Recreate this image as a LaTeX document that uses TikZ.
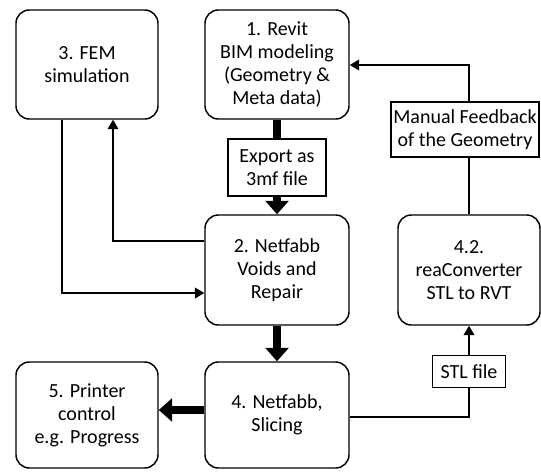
\documentclass[tikz,border=0pt]{standalone}
\usepackage{fontspec}
\setmainfont{Carlito}
\usetikzlibrary{arrows.meta}
\begin{document}
\begin{tikzpicture}[x=0.75pt, y=-0.75pt,
        step box/.style={draw, line width=1.1pt, rounded corners=10pt, align=center, inner sep=0pt},
        note box/.style={draw, line width=1.1pt, align=center, inner sep=0pt},
        link/.style={line width=1.1pt, -{Triangle[length=7pt, width=8pt]}},
        plain link/.style={line width=1.1pt},
        fat link/.style={line width=6pt},
        fat arrow/.style={line width=6pt, -{Triangle[length=10pt, width=17pt]}},
        font=\fontsize{15pt}{17.2pt}\selectfont]
        \useasboundingbox (0,0) rectangle (541,471);
        \node[step box, minimum width=106.5pt, minimum height=81.75pt] (fem) at (87,64.5) {3. FEM\\simulation};
        \node[step box, minimum width=108pt, minimum height=81.75pt] (revit) at (277,64.5) {1. Revit\\BIM modeling\\(Geometry \&\\Meta data)};
        \node[note box, minimum width=73.5pt, minimum height=42.75pt] (export) at (277,167.5) {Export as\\3mf file};
        \node[step box, minimum width=108pt, minimum height=82.5pt] (repair) at (277,270) {2. Netfabb\\Voids and\\Repair};
        \node[step box, minimum width=108pt, minimum height=79.5pt] (slice) at (277,415) {4. Netfabb,\\Slicing};
        \node[step box, minimum width=106.5pt, minimum height=79.5pt] (printer) at (87,415) {5. Printer\\control\\e.g. Progress};
        \node[step box, minimum width=106.5pt, minimum height=82.5pt] (conv) at (469,270) {4.2.\\reaConverter\\STL to RVT};
        \node[note box, minimum width=111pt, minimum height=41.25pt] (feedback) at (465,129.5) {Manual Feedback\\of the Geometry};
        \node[note box, minimum width=54.75pt, minimum height=24pt] (stl) at (469,371.5) {STL file};

        \draw[fat link] (revit) -- (export);
        \draw[fat arrow] (export) -- (repair);
        \draw[fat arrow] (repair) -- (slice);
        \draw[fat arrow] (slice.west |- 0,410) -- (printer.east |- 0,410);
        \draw[link] (repair.west |- 0,241) -| (fem.south -| 113,0);
        \draw[link] (fem.south -| 62,0) |- (repair.west |- 0,293);
        \draw[plain link] (slice.east |- 0,417) -| (stl);
        \draw[link] (stl) -- (conv);
        \draw[plain link] (conv.north) -- (conv.north |- feedback.south);
        \draw[link] (feedback.north -| 469,0) |- (revit.east |- 0,65);
\end{tikzpicture}
\end{document}
